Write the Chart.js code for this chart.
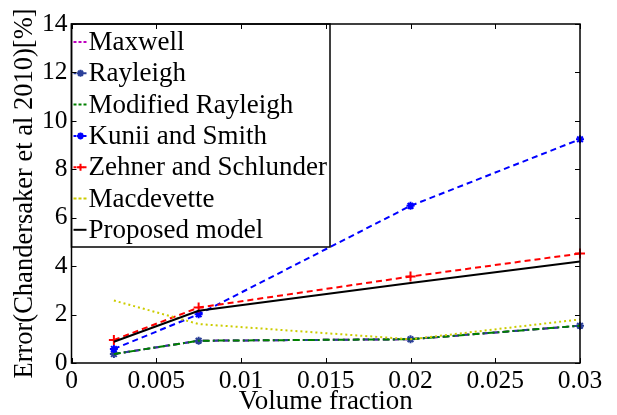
<!DOCTYPE html>
<html>
<head>
<meta charset="utf-8">
<script src="https://cdn.jsdelivr.net/npm/chart.js@4.4.1/dist/chart.umd.min.js"></script>
<style>
  html, body { margin: 0; padding: 0; background: #fff; }
  #wrap { width: 617px; height: 415px; }
</style>
</head>
<body>
<div id="wrap"><canvas id="chart" width="617" height="415"></canvas></div>
<script>
// 資料
const volumeFraction = [0.0025, 0.0075, 0.02, 0.03];
const maxwell = [0.37, 0.92, 0.98, 1.54];
const rayleigh = [0.37, 0.92, 0.98, 1.54];
const modifiedRayleigh = [0.37, 0.92, 0.98, 1.54];
const kuniiSmith = [0.58, 2.01, 6.49, 9.24];
const zehnerSchlunder = [0.95, 2.29, 3.57, 4.52];
const macdevette = [2.58, 1.61, 0.98, 1.80];
const proposedModel = [0.88, 2.16, 3.30, 4.19];

const xTicks = [0, 0.005, 0.01, 0.015, 0.02, 0.025, 0.03];
const xTickLabels = ['0', '0.005', '0.01', '0.015', '0.02', '0.025', '0.03'];
const yTicks = [0, 2, 4, 6, 8, 10, 12, 14];
const yTickLabels = ['0', '2', '4', '6', '8', '10', '12', '14'];

const FONT = '"Liberation Serif", "Times New Roman", serif';

function pts(values) {
    return volumeFraction.map((x, i) => ({ x: x, y: values[i] }));
}

function series(label, values, color, dash, pointStyle, radius, order) {
    return {
        label: label,
        data: pts(values),
        borderColor: color,
        backgroundColor: color,
        borderWidth: 2,
        borderDash: dash,
        pointStyle: pointStyle || 'circle',
        pointRadius: pointStyle ? radius : 0,
        pointBorderWidth: 2,
        pointBorderColor: color,
        tension: 0,
        clip: false,
        order: order
    };
}

const datasets = [
    series('Maxwell', maxwell, '#bf00bf', [6, 4], null, 0, 6),
    series('Rayleigh', rayleigh, '#2a3f99', [6, 4], 'star', 4, 5),
    series('Modified Rayleigh', modifiedRayleigh, '#008000', [7, 3, 2, 3], null, 0, 4),
    series('Kunii and Smith', kuniiSmith, '#0000ff', [6, 4], 'star', 4, 3),
    series('Zehner and Schlunder', zehnerSchlunder, '#ff0000', [6, 4], 'cross', 5, 2),
    series('Macdevette', macdevette, '#cccc00', [2, 3], null, 0, 1),
    series('Proposed model', proposedModel, '#000000', [], null, 0, 0)
];

// 外框、內向刻度與圖例
const framePlugin = {
    id: 'frame',
    afterDatasetsDraw(chart) {
        const ctx = chart.ctx;
        const a = chart.chartArea;

        // 圖例方框
        const lx = a.left, ly = a.top, lw = 330 - a.left, lh = 247 - a.top;
        ctx.save();
        ctx.fillStyle = '#fff';
        ctx.fillRect(lx, ly, lw, lh);
        ctx.strokeStyle = '#000';
        ctx.lineWidth = 1.5;
        ctx.strokeRect(lx, ly, lw, lh);
        ctx.font = '27px ' + FONT;
        ctx.textBaseline = 'middle';
        ctx.textAlign = 'left';
        chart.data.datasets.forEach((ds, i) => {
            const cy = ly + 18 + i * 31.3;
            ctx.strokeStyle = ds.borderColor;
            ctx.lineWidth = 2;
            ctx.setLineDash(ds.borderDash.length ? [3, 2] : []);
            ctx.beginPath();
            ctx.moveTo(lx + 2, cy);
            ctx.lineTo(lx + 15, cy);
            ctx.stroke();
            ctx.setLineDash([]);
            if (ds.pointRadius > 0) {
                Chart.helpers.drawPoint(ctx, {
                    pointStyle: ds.pointStyle, radius: 3.5, rotation: 0, borderWidth: 2
                }, lx + 9, cy);
            }
            ctx.fillStyle = '#000';
            ctx.fillText(ds.label, lx + 17, cy + 1);
        });
        ctx.restore();
    },
    afterDraw(chart) {
        const ctx = chart.ctx;
        const a = chart.chartArea;
        const x = chart.scales.x, y = chart.scales.y;
        ctx.save();
        ctx.strokeStyle = '#000';
        ctx.lineWidth = 1.5;
        ctx.setLineDash([]);
        ctx.strokeRect(a.left, a.top, a.right - a.left, a.bottom - a.top);
        ctx.lineWidth = 1;
        const tl = 5;
        ctx.beginPath();
        xTicks.forEach(v => {
            const px = Math.round(x.getPixelForValue(v)) + 0.5;
            ctx.moveTo(px, a.bottom); ctx.lineTo(px, a.bottom - tl);
            ctx.moveTo(px, a.top); ctx.lineTo(px, a.top + tl);
        });
        yTicks.forEach(v => {
            const py = Math.round(y.getPixelForValue(v)) + 0.5;
            ctx.moveTo(a.left, py); ctx.lineTo(a.left + tl, py);
            ctx.moveTo(a.right, py); ctx.lineTo(a.right - tl, py);
        });
        ctx.stroke();
        ctx.restore();
    }
};

const ctx = document.getElementById('chart').getContext('2d');
new Chart(ctx, {
    type: 'line',
    data: { datasets: datasets },
    options: {
        responsive: false,
        animation: false,
        devicePixelRatio: 1,
        layout: { padding: { top: 24, right: 37, left: 0, bottom: 0 } },
        plugins: { legend: { display: false }, tooltip: { enabled: false } },
        scales: {
            x: {
                type: 'linear',
                min: 0, max: 0.03,
                grid: { display: false, drawTicks: false },
                border: { display: false },
                afterBuildTicks: s => { s.ticks = xTicks.map(v => ({ value: v })); },
                afterFit: s => { s.height = 52; },
                ticks: {
                    padding: 3,
                    color: '#000',
                    maxRotation: 0,
                    autoSkip: false,
                    font: { family: FONT, size: 25.5 },
                    callback: (v, i) => xTickLabels[i]
                },
                title: {
                    display: true,
                    text: 'Volume fraction',
                    color: '#000',
                    font: { family: FONT, size: 27, lineHeight: 1 },
                    padding: { top: 0, bottom: 0 }
                }
            },
            y: {
                type: 'linear',
                min: 0, max: 14,
                grid: { display: false, drawTicks: false },
                border: { display: false },
                afterBuildTicks: s => { s.ticks = yTicks.map(v => ({ value: v })); },
                afterFit: s => { s.width = 71.5; },
                ticks: {
                    padding: 4,
                    color: '#000',
                    autoSkip: false,
                    font: { family: FONT, size: 25.5 },
                    callback: (v, i) => yTickLabels[i]
                },
                title: {
                    display: true,
                    text: 'Error(Chandersaker et al 2010)[%]',
                    color: '#000',
                    font: { family: FONT, size: 26.5, lineHeight: 1 },
                    padding: { top: 12, bottom: 0 }
                }
            }
        }
    },
    plugins: [framePlugin]
});
</script>
</body>
</html>
